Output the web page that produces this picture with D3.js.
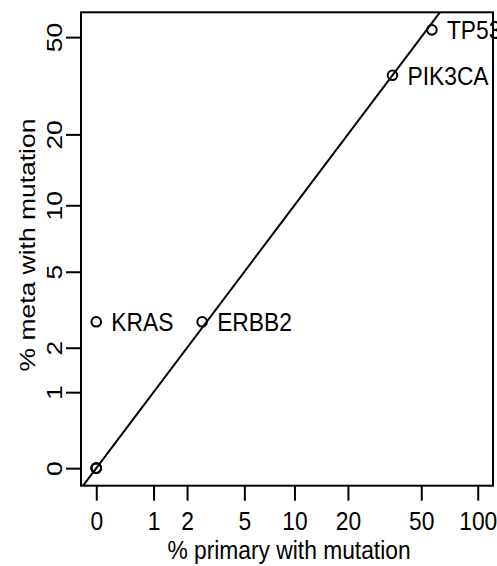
<!DOCTYPE html>
<html>
<head>
<meta charset="utf-8">
<script src="https://cdn.jsdelivr.net/npm/d3@7"></script>
<style>
  html, body { margin: 0; padding: 0; background: #fff; }
  svg { display: block; }
  text { font-family: "Liberation Sans", Arial, sans-serif; fill: #000; }
</style>
</head>
<body>
<script>
// Mutation frequency per gene: primary tumour vs metastasis (percent)
const genes   = ["TP53", "PIK3CA", "ERBB2", "KRAS", "", "", ""];
const primary = [57, 35, 2.6, 0, 0, 0, 0];
const meta    = [53.5, 35, 2.8, 2.8, 0, 0, 0];

const xTicks = [0, 1, 2, 5, 10, 20, 50, 100];
const yTicks = [0, 1, 2, 5, 10, 20, 50];
const xLimit = [0, 100];

const W = 497, H = 566;
const plot = { left: 81, right: 493, top: 12.3, bottom: 485.7 };
const FONT = 22.8;     // text size
const STRETCH = 1.16;  // glyphs are drawn slightly tall

// log(x + 1) scale, padded by 4% on each side in transformed units
const tx = v => Math.sign(v) * Math.log1p(Math.abs(v));
const inv = t => Math.sign(t) * Math.expm1(Math.abs(t));
function padded(lo, hi) {
  const a = tx(lo), b = tx(hi), p = 0.04 * (b - a);
  return [inv(a - p), inv(b + p)];
}

const x = d3.scaleSymlog().constant(1)
  .domain(padded(xLimit[0], xLimit[1]))
  .range([plot.left, plot.right]);
const y = d3.scaleSymlog().constant(1)
  .domain(padded(d3.min(meta), d3.max(meta)))
  .range([plot.bottom, plot.top]);

const svg = d3.select("body").append("svg")
  .attr("width", W).attr("height", H);
svg.append("rect").attr("width", W).attr("height", H).attr("fill", "#fff");

svg.append("defs").append("clipPath").attr("id", "plot-clip")
  .append("rect")
  .attr("x", plot.left).attr("y", plot.top)
  .attr("width", plot.right - plot.left)
  .attr("height", plot.bottom - plot.top);

// identity line y = x
const idLine = [-0.3, 500];
svg.append("line")
  .attr("clip-path", "url(#plot-clip)")
  .attr("x1", x(idLine[0])).attr("y1", y(idLine[0]))
  .attr("x2", x(idLine[1])).attr("y2", y(idLine[1]))
  .attr("stroke", "#000").attr("stroke-width", 2);

// points
const pts = genes.map((g, i) => ({ g, px: primary[i], py: meta[i] }));
svg.append("g").selectAll("circle").data(pts).join("circle")
  .attr("cx", d => x(d.px)).attr("cy", d => y(d.py))
  .attr("r", 4.8)
  .attr("fill", "none").attr("stroke", "#000").attr("stroke-width", 2);

// gene labels to the right of each point
svg.append("g").selectAll("text").data(pts.filter(d => d.g)).join("text")
  .attr("transform", d => `translate(${x(d.px) + 15},${y(d.py)}) scale(1,${STRETCH})`)
  .attr("dy", "0.36em")
  .attr("font-size", FONT)
  .text(d => d.g);

// x axis
const xAxis = svg.append("g")
  .attr("transform", `translate(0,${plot.bottom})`)
  .call(d3.axisBottom(x).tickValues(xTicks).tickFormat(d3.format("d")).tickSize(15));
xAxis.select(".domain").remove();
xAxis.selectAll("line").attr("stroke", "#000").attr("stroke-width", 2);
xAxis.selectAll("text")
  .attr("font-size", FONT).attr("fill", "#000")
  .attr("font-family", "Liberation Sans, Arial, sans-serif")
  .attr("y", null).attr("dy", null)
  .attr("text-anchor", "middle")
  .attr("transform", `translate(0,44.5) scale(1,${STRETCH})`);

// y axis, labels parallel to the axis
const yAxis = svg.append("g")
  .attr("transform", `translate(${plot.left},0)`)
  .call(d3.axisLeft(y).tickValues(yTicks).tickFormat(d3.format("d")).tickSize(15));
yAxis.select(".domain").remove();
yAxis.selectAll("line").attr("stroke", "#000").attr("stroke-width", 2);
yAxis.selectAll("text")
  .attr("font-size", FONT).attr("fill", "#000")
  .attr("font-family", "Liberation Sans, Arial, sans-serif")
  .attr("x", null).attr("dy", null)
  .attr("text-anchor", "middle")
  .attr("transform", `translate(-19,0) scale(1,${STRETCH}) rotate(-90)`);

// plot frame
svg.append("rect")
  .attr("x", plot.left).attr("y", plot.top)
  .attr("width", plot.right - plot.left)
  .attr("height", plot.bottom - plot.top)
  .attr("fill", "none").attr("stroke", "#000").attr("stroke-width", 2);

// axis titles
svg.append("text")
  .attr("transform", `translate(${(plot.left + plot.right) / 2 + 2},559) scale(1,${STRETCH})`)
  .attr("text-anchor", "middle").attr("font-size", FONT)
  .text("% primary with mutation");
svg.append("text")
  .attr("transform", `translate(34.5,${(plot.top + plot.bottom) / 2 - 4}) scale(1,${STRETCH}) rotate(-90)`)
  .attr("text-anchor", "middle").attr("font-size", FONT)
  .text("% meta with mutation");
</script>
</body>
</html>
